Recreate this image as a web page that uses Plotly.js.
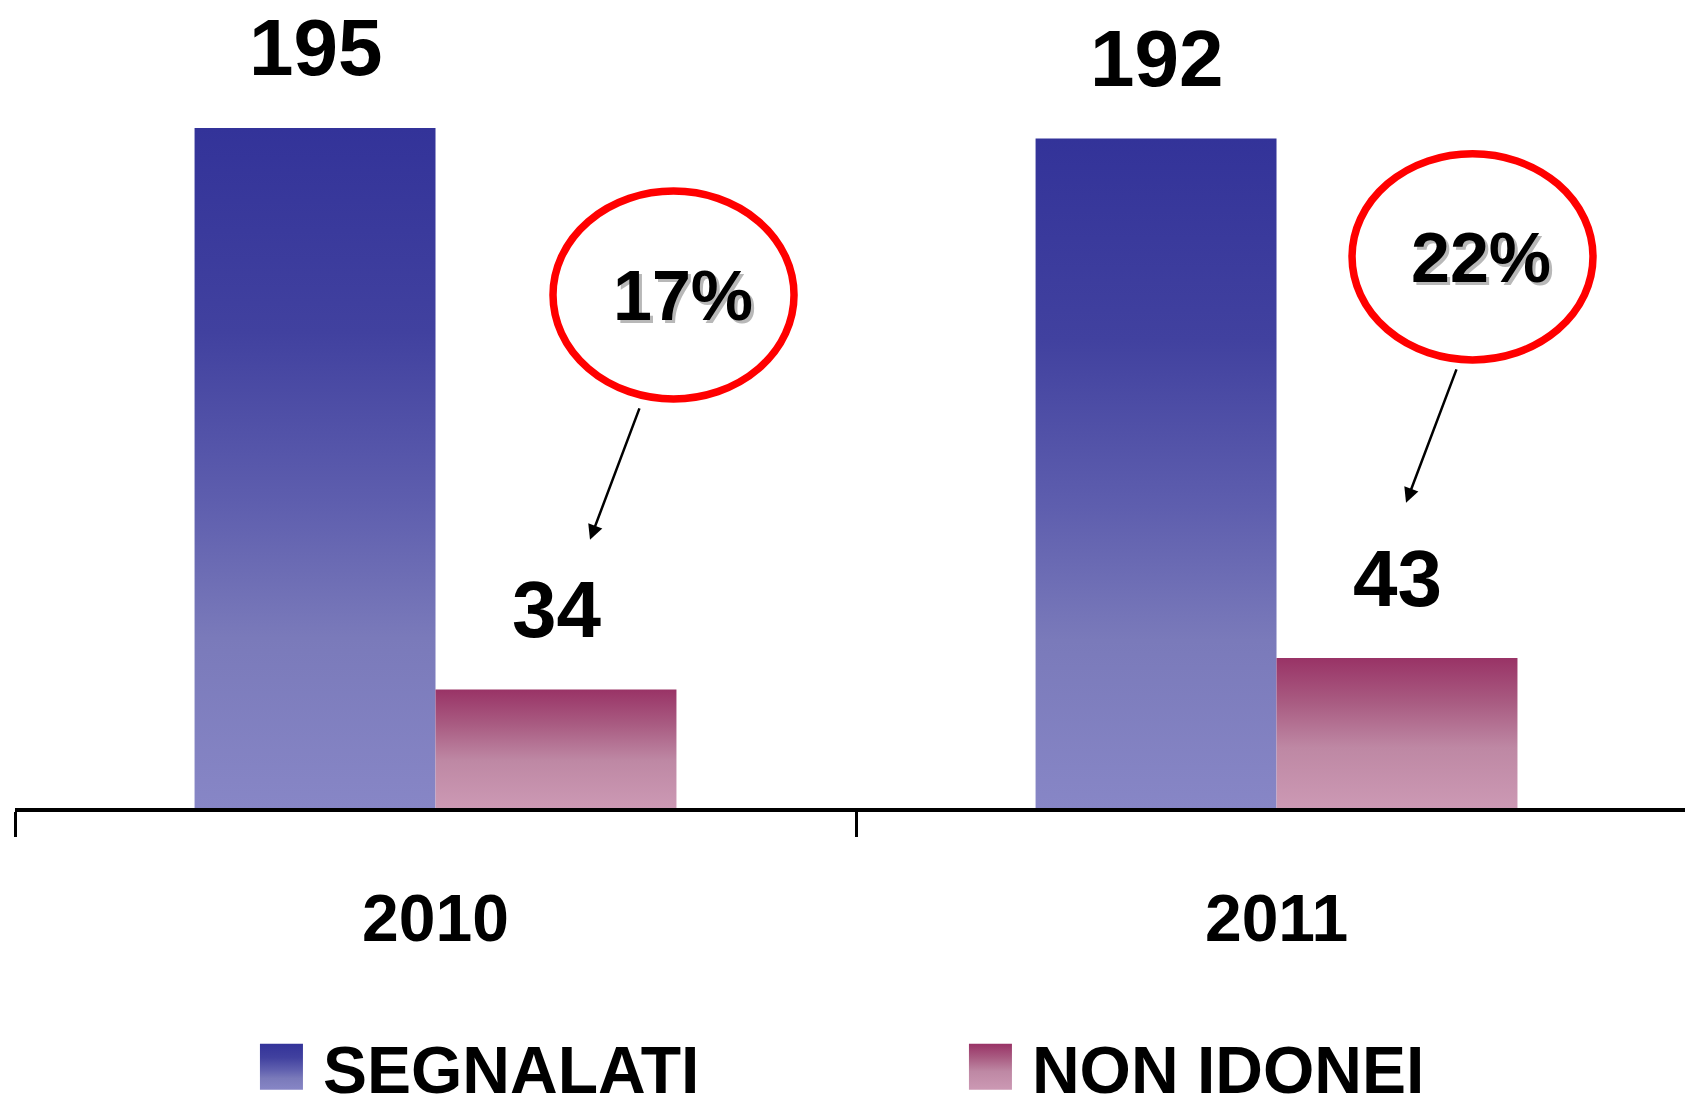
<!DOCTYPE html>
<html>
<head>
<meta charset="utf-8">
<script src="https://cdn.plot.ly/plotly-3.0.1.min.js"></script>
<style>
  html, body { margin: 0; padding: 0; background: #ffffff; }
  #chart { width: 1685px; height: 1108px; }
</style>
</head>
<body>
<div id="chart"></div>
<script>
// ---- data ----
const categories = ['2010', '2011'];
const seriesNames = ['SEGNALATI', 'NON IDONEI'];
const segnalati = [195, 192];
const nonIdonei = [34, 43];

// ---- styles ----
const FONT = 'Liberation Sans, Arial, Helvetica, sans-serif';
const blueStops = [[0, '#333399'], [0.3, '#41419f'], [0.55, '#5e5eae'], [0.75, '#7a7aba'], [1, '#8786c6']];
const pinkStops = [[0, '#993366'], [0.3, '#a95c82'], [0.6, '#be88a4'], [1, '#cc99b4']];

const traces = [
  { type: 'bar', name: seriesNames[0], x: categories, y: segnalati,
    marker: { color: '#5e5eae', line: { width: 0 } }, hoverinfo: 'none' },
  { type: 'bar', name: seriesNames[1], x: categories, y: nonIdonei,
    marker: { color: '#b06c8f', line: { width: 0 } }, hoverinfo: 'none' }
];

const barHalf = 120.5; // px offset of each bar centre from category centre
const annotations = [];
categories.forEach((c, i) => {
  [segnalati, nonIdonei].forEach((vals, s) => {
    annotations.push({
      x: i, y: vals[i], xref: 'x', yref: 'y',
      xshift: s === 0 ? -barHalf : barHalf, yshift: 80,
      text: String(vals[i]), showarrow: false,
      font: { family: FONT, size: 80, weight: 'bold', color: '#000' }
    });
  });
});

// percentage callouts
const pctPos = [ { x: 0.2943, y: 146.8 }, { x: 1.2432, y: 157.7 } ];
const arrows = [ { x: 0.1837, y: 76.9, ax: 50, ay: -133 }, { x: 1.154, y: 87.5, ax: 51, ay: -135 } ];
categories.forEach((c, i) => {
  const pct = Math.round(nonIdonei[i] / segnalati[i] * 100) + '%';
  annotations.push({
    x: pctPos[i].x, y: pctPos[i].y, xref: 'x', yref: 'y', xshift: 3, yshift: -3,
    text: pct, showarrow: false,
    font: { family: FONT, size: 70, weight: 'bold', color: '#b8b8b8' }
  });
  annotations.push({
    x: pctPos[i].x, y: pctPos[i].y, xref: 'x', yref: 'y',
    text: pct, showarrow: false,
    font: { family: FONT, size: 70, weight: 'bold', color: '#000' }
  });
  annotations.push({
    x: arrows[i].x, y: arrows[i].y, xref: 'x', yref: 'y',
    ax: arrows[i].ax, ay: arrows[i].ay, text: '', showarrow: true,
    arrowhead: 2, arrowsize: 1.2, arrowwidth: 2.5, arrowcolor: '#000', standoff: 0
  });
});

const shapes = [
  { type: 'circle', xref: 'x', yref: 'y', x0: 0.1397, x1: 0.4263, y0: 117.3, y1: 176.9,
    line: { color: '#ff0000', width: 7.5 }, fillcolor: 'rgba(0,0,0,0)' },
  { type: 'circle', xref: 'x', yref: 'y', x0: 1.0898, x1: 1.3763, y0: 128.5, y1: 187.6,
    line: { color: '#ff0000', width: 7.5 }, fillcolor: 'rgba(0,0,0,0)' }
];

const layout = {
  width: 1685, height: 1108,
  margin: { l: 15, r: 0, t: 0, b: 300, autoexpand: false },
  paper_bgcolor: '#ffffff', plot_bgcolor: '#ffffff',
  barmode: 'group', bargap: 0.427, bargroupgap: 0,
  showlegend: true,
  xaxis: {
    type: 'category', range: [-0.5, 1.4857],
    showline: true, linecolor: '#000', linewidth: 3.5,
    ticks: 'outside', tickson: 'boundaries', ticklen: 25, tickwidth: 3, tickcolor: '#000',
    tickfont: { family: FONT, size: 66, weight: 'bold', color: '#000' },
    ticklabelstandoff: 50,
    showgrid: false, zeroline: false, fixedrange: true
  },
  yaxis: { range: [0, 231.7], visible: false, showgrid: false, zeroline: false, fixedrange: true },
  legend: {
    orientation: 'h', x: 0.1347, xanchor: 'left', y: -0.3205, yanchor: 'middle',
    font: { family: FONT, size: 66, weight: 'bold', color: '#000' },
    itemwidth: 73, entrywidth: 621, entrywidthmode: 'pixels',
    bgcolor: 'rgba(0,0,0,0)', traceorder: 'normal'
  },
  annotations: annotations,
  shapes: shapes
};

function addGradient(defs, id, stops) {
  const ns = 'http://www.w3.org/2000/svg';
  const g = document.createElementNS(ns, 'linearGradient');
  g.setAttribute('id', id);
  g.setAttribute('x1', '0'); g.setAttribute('y1', '0');
  g.setAttribute('x2', '0'); g.setAttribute('y2', '1');
  stops.forEach(([o, c]) => {
    const s = document.createElementNS(ns, 'stop');
    s.setAttribute('offset', o);
    s.setAttribute('stop-color', c);
    g.appendChild(s);
  });
  defs.appendChild(g);
}

const gd = document.getElementById('chart');
Plotly.newPlot(gd, traces, layout, { staticPlot: true, displayModeBar: false, responsive: false }).then(() => {
  const svg = gd.querySelector('svg.main-svg');
  let defs = svg.querySelector('defs');
  if (!defs) { defs = document.createElementNS('http://www.w3.org/2000/svg', 'defs'); svg.insertBefore(defs, svg.firstChild); }
  addGradient(defs, 'gradSeg', blueStops);
  addGradient(defs, 'gradNon', pinkStops);
  const ids = ['gradSeg', 'gradNon'];
  gd.querySelectorAll('.barlayer .trace').forEach((t, k) => {
    t.querySelectorAll('.point path').forEach(p => { p.style.fill = 'url(#' + ids[k] + ')'; });
  });
  gd.querySelectorAll('.legend .traces').forEach((t, k) => {
    t.querySelectorAll('.legendpoints path').forEach(p => {
      p.setAttribute('d', 'M21.5,23H-21.5V-23H21.5Z');
      p.style.fill = 'url(#' + ids[k] + ')';
      p.style.stroke = 'none';
    });
  });
});
</script>
</body>
</html>
